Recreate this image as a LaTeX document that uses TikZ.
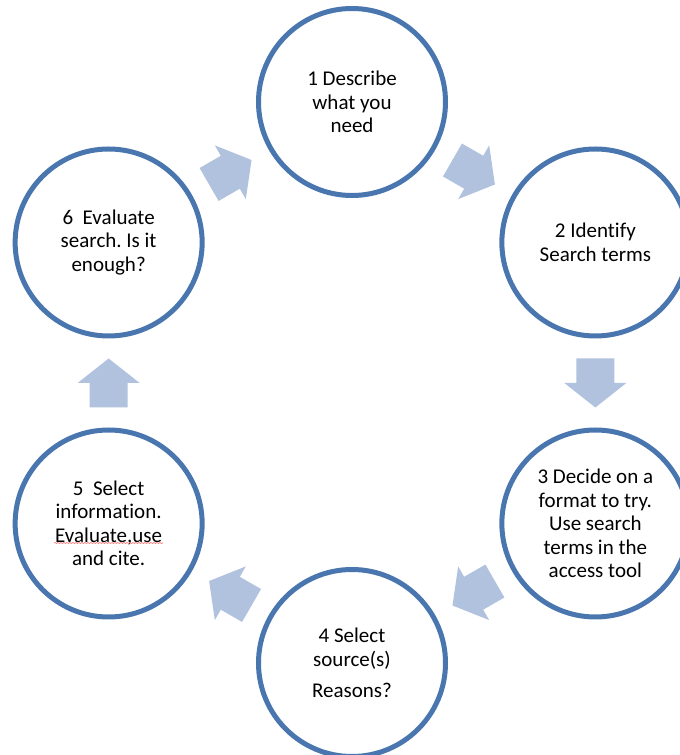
\documentclass[tikz,border=0pt]{standalone}
\usepackage{fontspec}
\setmainfont{Carlito}[Ligatures=NoCommon]
\usetikzlibrary{calc,decorations.pathmorphing}
\definecolor{ringblue}{HTML}{4A76AF}
\definecolor{arrowfill}{HTML}{B0C2DE}
\tikzset{
  stepcircle/.style={circle, draw=ringblue, line width=5pt, minimum size=187pt, inner sep=0pt,
    align=center, font=\fontsize{21}{23.5}\selectfont\frenchspacing},
  blockarrow/.pic={\fill[arrowfill] (-24.5,-19) -- (0,-19) -- (0,-31) -- (24.5,0) -- (0,31) -- (0,19) -- (-24.5,19) -- cycle;}
}
\begin{document}
\begin{tikzpicture}[x=1pt,y=1pt]
\useasboundingbox (0,0) rectangle (680,755);
\coordinate (O) at (352,372);
\node[stepcircle] (c1) at ($(O)+(90:281)$) {1 Describe\\what you\\need};
\node[stepcircle] (c2) at ($(O)+(30:281)$) {2 Identify\\Search terms};
\node[stepcircle] (c3) at ($(O)+(-30:281)$) {3 Decide on a\\format to try.\\Use search\\terms in the\\access tool};
\node[stepcircle] (c4) at ($(O)+(-90:280)$) {4 Select\\source(s)\\[8pt]Reasons?};
\node[stepcircle] (c5) at ($(O)+(210:281)$) {5\ \ Select\\information.\\Evaluate,use\\and cite.};
\node[stepcircle] (c6) at ($(O)+(150:281)$) {6\ \ Evaluate\\search. Is it\\enough?};
\pic[rotate=30] at ($(c6)!0.5!(c1)$) {blockarrow};
\pic[rotate=-30] at ($(c1)!0.5!(c2)$) {blockarrow};
\pic[rotate=-90] at ($(c2)!0.5!(c3)$) {blockarrow};
\pic[rotate=-150] at ($(c3)!0.5!(c4)$) {blockarrow};
\pic[rotate=150] at ($(c4)!0.5!(c5)$) {blockarrow};
\pic[rotate=90] at ($(c5)!0.5!(c6)$) {blockarrow};
\coordinate (sqa) at (54,212);
\coordinate (sqb) at (163,212);
\draw[red!55, line width=0.6pt, decorate, decoration={snake, amplitude=0.6pt, segment length=3pt}] (sqa) -- (sqb);
\end{tikzpicture}
\end{document}
